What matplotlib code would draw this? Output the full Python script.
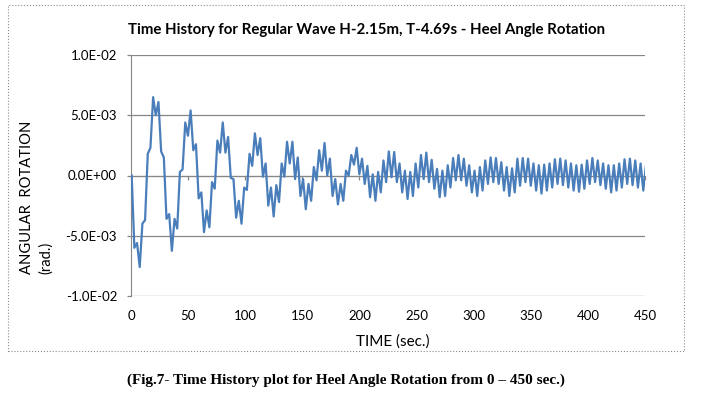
import numpy as np
import matplotlib
matplotlib.use("Agg")
import matplotlib.pyplot as plt
from matplotlib.patches import Rectangle

## data: heel angle (1e-3 rad) read at every half wave period
t_start = 0.6  # sec
half_period = 2.345  # sec, half of T = 4.69 s

heel_0_100 = [
    0.0, -6.0, -5.6, -7.6, -4.0, -3.7, 1.8, 2.3, 6.5, 5.0,
    6.1, 2.0, 1.5, -3.6, -3.2, -6.25, -3.6, -4.4, 0.3, 0.5,
    4.4, 3.3, 5.4, 2.1, 2.6, -1.9, -1.4, -4.7, -2.9, -4.3,
    -0.55, -1.1, 2.9, 1.9, 4.4, 1.9, 3.2, -0.2, -0.3, -3.5,
    -2.1, -4.0, -1.0,
]
heel_100_200 = [
    -1.2, 1.8, 0.8, 3.5, 1.7, 3.1, -0.1, 1.0, -2.5, -1.0,
    -3.4, -0.8, -2.2, 1.0, -0.1, 2.8, 1.0, 2.8, -0.3, 1.5,
    -1.7, -0.3, -2.8, -0.7, -2.1, 0.7, -0.4, 2.1, 0.4, 2.7,
    0.0, 1.4, -1.7, -0.3, -2.4, -0.7, -2.1, 0.4, 0.0, 1.7,
    0.9, 2.3, 0.1,
]
heel_200_325 = [
    1.4, -0.7, 0.8, -1.8, 0.1, -2.1, 0.3, -1.4, 1.25, -0.55,
    2.0, -0.15, 1.95, -0.55, 1.0, -1.4, 0.4, -1.95, 0.3, -1.7,
    1.0, -1.0, 1.7, -0.3, 1.9, -0.55, 1.3, -1.1, 0.55, -1.8,
    0.4, -1.7, 0.85, -1.0, 1.45, -0.4, 1.7, -0.4, 1.4, -0.85,
    0.85, -1.4, 0.4, -1.7, 0.7, -1.25, 1.25, -0.7, 1.5, -0.55,
    1.45, -0.7, 1.1, -1.25,
]
heel_325_450 = [
    0.7, -1.7, 0.6, -1.4, 1.4, -0.85, 1.45, -0.55, 1.4, -0.85,
    1.0, -1.25, 0.85, -1.5, 0.9, -1.25, 1.0, -1.0, 1.35, -0.7,
    1.4, -0.8, 1.25, -1.0, 1.0, -1.25, 0.85, -1.35, 0.9, -1.1,
    1.25, -0.7, 1.45, -0.55, 1.25, -0.8, 1.0, -1.1, 0.85, -1.4,
    0.85, -1.25, 1.0, -1.0, 1.35, -0.7, 1.4, -0.8, 1.25, -1.0,
    1.0, -1.25, 0.85,
]

x_ticks = [0, 50, 100, 150, 200, 250, 300, 350, 400, 450]
y_ticks = [-0.01, -0.005, 0.0, 0.005, 0.01]
y_tick_labels = ["-1.0E-02", "-5.0E-03", "0.0E+00", "5.0E-03", "1.0E-02"]

title = "Time History for Regular Wave H-2.15m, T-4.69s - Heel Angle Rotation"
caption = "(Fig.7- Time History plot for Heel Angle Rotation from 0 \u2013 450 sec.)"

heel = np.array(heel_0_100 + heel_100_200 + heel_200_325 + heel_325_450) / 1000.0
time = t_start + half_period * np.arange(len(heel))

## plot
W, H = 724, 396
grey = "#868686"
plt.rcParams["font.family"] = ["Lato", "DejaVu Sans"]

fig = plt.figure(figsize=(W / 100, H / 100), dpi=100)
ax = fig.add_axes([131 / W, 1 - 296 / H, 514 / W, 241 / H])

ax.plot(time, heel, color="#4a7ebb", lw=1.6, zorder=3,
        solid_joinstyle="round")
ax.set_xlim(0, 450)
ax.set_ylim(-0.01, 0.01)

ax.set_yticks(y_ticks)
ax.set_yticklabels(y_tick_labels)
ax.yaxis.grid(True, color=grey, lw=0.9)
ax.set_axisbelow(True)
ax.tick_params(axis="y", direction="out", length=3, width=0.9, color=grey,
               pad=7, labelsize=9.5, labelcolor="black")

# horizontal axis crosses at zero, labels sit low
for s in ["top", "right"]:
    ax.spines[s].set_visible(False)
ax.spines["left"].set_color(grey)
ax.spines["bottom"].set_color(grey)
ax.spines["bottom"].set_position(("data", 0))
ax.set_xticks(x_ticks)
ax.tick_params(axis="x", direction="out", length=3, width=0.9, color=grey,
               labelbottom=False)

sec = ax.secondary_xaxis("bottom")
sec.set_xticks(x_ticks)
sec.tick_params(length=0, pad=10, labelsize=9.5)
sec.spines["bottom"].set_visible(False)

fig.text(367 / W, 1 - 30 / H, title, ha="center", va="center",
         fontsize=10.8, fontweight="bold")
fig.text(393 / W, 1 - 342 / H, "TIME (sec.)", ha="center", va="center",
         fontsize=11)
fig.text(20 / W, 1 - 274 / H, "ANGULAR  ROTATION\n(rad.)", rotation=90,
         ha="left", va="bottom", multialignment="left", fontsize=10.6,
         linespacing=1.45)
fig.text(346 / W, 1 - 380 / H, caption, ha="center", va="center",
         fontsize=11, fontweight="bold", family="Liberation Serif")

# chart border
fig.patches.append(Rectangle((8 / W, 1 - 351 / H), 676 / W, 346 / H,
                             transform=fig.transFigure, fill=False,
                             ec="#8c8c8c", lw=0.8, ls=":"))

fig.savefig("out.png", dpi=100)
